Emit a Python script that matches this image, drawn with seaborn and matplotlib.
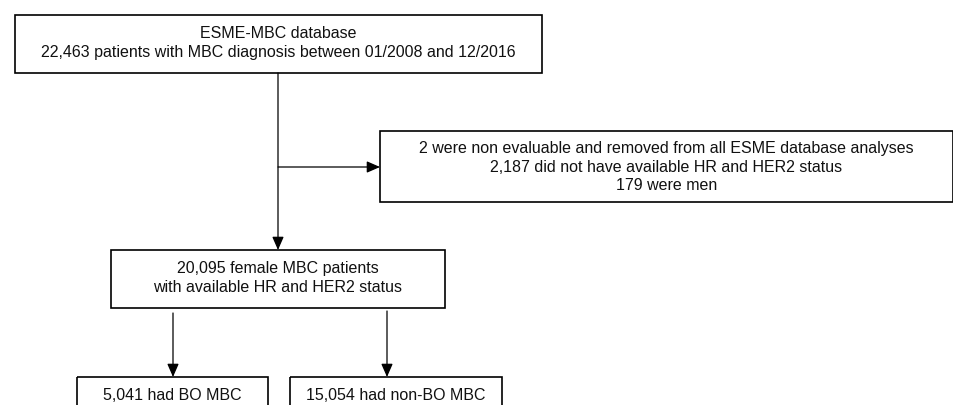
import matplotlib
matplotlib.use("Agg")
import matplotlib.pyplot as plt
import seaborn as sns
from matplotlib.patches import Rectangle

# patient counts shown in the flow chart
total_patients = 22463
non_evaluable = 2
no_hr_her2 = 2187
men = 179
female_patients = 20095
bo_patients = 5041
non_bo_patients = 15054

sns.set_style("white")
plt.rcParams["font.family"] = ["Liberation Sans", "DejaVu Sans"]

fig = plt.figure(figsize=(9.54, 4.05), dpi=100)
ax = fig.add_axes([0, 0, 1, 1])
ax.set_xlim(0, 954)
ax.set_ylim(405, 0)
ax.axis("off")

FS = 11.5
LW = 1.2


def box(x0, y0, x1, y1, lines, ty, gap=19):
    ax.add_patch(Rectangle((x0, y0), x1 - x0, y1 - y0, fill=False,
                           edgecolor="black", lw=LW))
    cx = (x0 + x1) / 2
    for i, t in enumerate(lines):
        ax.text(cx, ty + i * gap, t, ha="center", va="center", fontsize=FS,
                color="#111111")


def arrow(x0, y0, x1, y1):
    ax.annotate("", xy=(x1, y1), xytext=(x0, y0),
                arrowprops=dict(arrowstyle="-|>,head_length=0.8,head_width=0.35",
                                color="black", lw=0.9, shrinkA=0, shrinkB=0))


box(15, 15, 542, 73,
    ["ESME-MBC database",
     f"{total_patients:,} patients with MBC diagnosis between 01/2008 and 12/2016"], 33)

box(380, 131, 953, 202,
    [f"{non_evaluable} were non evaluable and removed from all ESME database analyses",
     f"{no_hr_her2:,} did not have available HR and HER2 status",
     f"{men} were men"], 148)

box(111, 250, 445, 308,
    [f"{female_patients:,} female MBC patients",
     "with available HR and HER2 status"], 268)

box(77, 377, 268, 420, [f"{bo_patients:,} had BO MBC"], 395)
box(290, 377, 502, 420, [f"{non_bo_patients:,} had non-BO MBC"], 395)

arrow(278, 73, 278, 250)
arrow(278, 167, 380, 167)
arrow(173, 313, 173, 377)
arrow(387, 311, 387, 377)

fig.savefig("out.png", dpi=100, facecolor="white")
